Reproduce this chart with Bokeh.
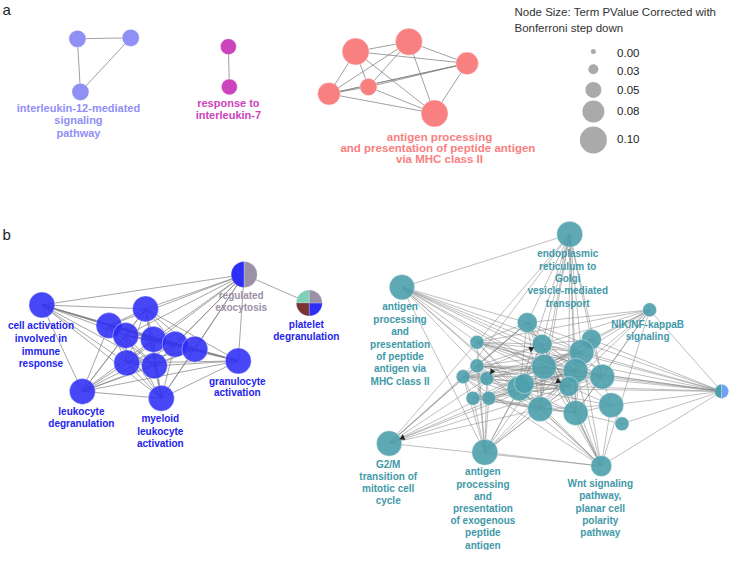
import numpy as np
from bokeh.plotting import figure
from bokeh.models import Range1d
from bokeh.embed import file_html
from bokeh.resources import INLINE
from bokeh.core.properties import value

# ---------------- data ----------------
legend_title = ["Node Size: Term PValue Corrected with", "Bonferroni step down"]
legend_pvalues = [0.00, 0.025, 0.05, 0.075, 0.10]
legend_labels = ["0.00", "0.03", "0.05", "0.08", "0.10"]

# panel a: three GO clusters (corrected p-values of member terms, edges)
a1_pval = [0.055, 0.055, 0.055]
a1_edges = [(0, 1), (0, 2), (1, 2)]
a1_label = "interleukin-12-mediated\nsignaling\npathway"

a2_pval = [0.05, 0.05]
a2_edges = [(0, 1)]
a2_label = "response to\ninterleukin-7"

a3_pval = [0.10, 0.10, 0.078, 0.078, 0.055, 0.10]
a3_edges = [(0, 1), (0, 2), (0, 3), (0, 4), (0, 5), (1, 2), (1, 3), (1, 4), (1, 5),
            (2, 3), (2, 3), (2, 4), (2, 5), (3, 5), (4, 5), (3, 4)]
a3_label = "antigen processing\nand presentation  of peptide antigen\nvia MHC class II"

# panel b left network (nodes 12, 13 are pies)
bl_pval = [0.095, 0.095, 0.095, 0.095, 0.095, 0.095, 0.095, 0.095, 0.095, 0.095,
           0.095, 0.095, 0.095, 0.095]
bl_edges_txt = ("0-1 0-2 0-3 0-4 0-5 0-6 0-7 0-8 0-9 0-10 0-11 0-12 1-2 1-3 1-4 1-5 1-6 1-7 "
                "1-8 1-9 1-10 1-11 1-12 2-3 2-4 2-5 2-6 2-7 2-8 2-9 2-10 2-11 2-12 3-4 3-5 "
                "3-6 3-7 3-8 3-9 3-10 3-11 3-12 4-5 4-6 4-7 4-8 4-9 4-10 4-11 4-12 5-6 5-7 "
                "5-8 5-9 5-10 5-11 5-12 6-7 6-8 6-9 6-10 6-11 6-12 7-8 7-9 7-10 7-11 7-12 "
                "8-9 8-10 8-11 8-12 9-10 9-11 10-11 10-12 11-12 12-13")
bl_labels = ["cell activation\ninvolved in\nimmune\nresponse",
             "leukocyte\ndegranulation",
             "myeloid\nleukocyte\nactivation",
             "granulocyte\nactivation",
             "regulated\nexocytosis",
             "platelet\ndegranulation"]
pie_exo_frac = [0.5, 0.5]
pie_plt_frac = [0.25, 0.25, 0.25, 0.25]

# panel b right network (node 6 is a pie)
br_pval = [0.092, 0.095, 0.042, 0.092, 0.095, 0.071, 0.042,
           0.067, 0.042, 0.067, 0.067, 0.09, 0.042, 0.09, 0.09, 0.09, 0.042,
           0.042, 0.09, 0.067, 0.067, 0.042, 0.042, 0.09, 0.09, 0.09, 0.042]
br_edges_txt = ("0-1 0-4 0-7 0-9 0-11 0-13 0-14 0-18 0-20 0-23 0-12 0-8 0-15 "
                "1-7 1-8 1-9 1-10 1-11 1-13 1-14 1-15 1-18 1-20 1-23 1-24 1-16 "
                "2-7 2-8 2-9 2-10 2-11 2-13 2-14 2-15 2-20 2-24 2-6 2-5 "
                "3-5 3-7 3-8 3-12 3-13 3-14 3-16 3-17 3-18 3-20 3-23 "
                "4-5 4-8 4-12 4-13 4-14 4-16 4-17 4-18 4-20 4-21 4-22 4-23 4-9 4-11 "
                "5-7 5-8 5-9 5-11 5-12 5-13 5-14 5-16 5-18 5-20 5-23 5-24 5-25 5-6 "
                "6-7 6-9 6-10 6-11 6-13 6-14 6-15 6-18 6-20 6-25 6-26 6-8 6-12 "
                "7-8 7-9 7-11 7-12 7-13 7-14 7-16 7-18 7-20 7-23 "
                "8-9 8-11 8-13 8-14 8-15 8-18 8-20 "
                "9-10 9-11 9-12 9-13 9-14 9-15 9-16 9-18 9-20 9-23 9-24 "
                "10-11 10-13 10-14 10-15 10-18 "
                "11-12 11-13 11-14 11-15 11-16 11-17 11-18 11-20 11-23 11-24 "
                "12-13 12-14 12-15 12-17 12-18 12-20 "
                "13-14 13-15 13-16 13-17 13-18 13-20 13-21 13-23 13-24 "
                "14-15 14-16 14-18 14-20 14-21 14-22 14-23 14-24 14-25 "
                "15-16 15-18 15-20 15-23 15-24 15-25 "
                "16-17 16-18 16-20 16-21 16-22 16-24 "
                "17-18 17-20 17-21 17-22 17-23 "
                "18-20 18-21 18-22 18-23 18-24 18-25 19-20 19-23 "
                "20-21 20-22 20-23 20-24 20-25 21-22 21-23 21-24 22-23 22-24 "
                "23-24 23-25 24-25 24-26 25-26")
# directed edges (source-target) drawn with arrowheads
br_arrows_txt = "18-3 16-9 7-17 8-20"
br_labels = ["antigen\nprocessing\nand\npresentation\nof peptide\nantigen via\nMHC class II",
             "endoplasmic\nreticulum to\nGolgi\nvesicle-mediated\ntransport",
             "NIK/NF-kappaB\nsignaling",
             "G2/M\ntransition of\nmitotic cell\ncycle",
             "antigen\nprocessing\nand\npresentation\nof exogenous\npeptide\nantigen",
             "Wnt signaling\npathway,\nplanar cell\npolarity\npathway"]
pie_right_frac = [0.5, 0.5]

# ---------------- layout (node positions from the network layout) ----------------
a1_x = [82, 136, 85]
a1_y = [44, 43, 98]
a2_x = [235, 236]
a2_y = [52, 93]
a3_x = [364, 418, 477, 337, 377, 444]
a3_y = [57, 47, 69, 100, 93, 120]

bl_x = [46, 151, 114, 131, 159, 181, 201, 132, 160, 87, 167, 245, 251, 317]
bl_y = [315, 319, 336, 346, 350, 355, 360, 374, 377, 403, 410, 372, 284, 313]

br_x = [411, 581, 662, 398, 495, 613, 735,
        538, 487, 553, 603, 593, 487, 555, 587, 614, 473, 497, 530, 535, 580,
        483, 499, 551, 587, 623, 634]
br_y = [297, 243, 320, 456, 465, 479, 403,
        333, 353, 355, 350, 363, 377, 378, 382, 388, 388, 390, 400, 395, 398,
        410, 410, 421, 425, 417, 436]

# label anchors: (x, first line y, line height)
a_label_pos = [(83, 114, 13), (235, 109, 13), (449, 144, 11)]
bl_label_pos = [(45, 336, 13), (86, 423, 13), (166, 431, 12.5), (244, 393, 11.5),
                (248, 305, 12.5), (314, 335, 12)]
br_label_pos = [(409, 317, 12.6), (579, 263, 12.5), (660, 335, 12.5), (397, 477, 12.3),
                (493, 485, 12.4), (612, 497, 12.4)]

# ---------------- styles ----------------
LEG_SIZES = [5, 10, 16, 22, 27]
C_PURPLE = "#8f8ff5"
C_MAGENTA = "#cc44bb"
C_PINK = "#f88080"
C_BLUE = "#2e2ef6"
C_BLUE_T = "#2424ec"
C_GRAYP = "#9a90a8"
C_TEAL = "#4ea0ad"
C_TEAL_T = "#3f99a8"
C_MINT = "#80cfb8"
C_BROWN = "#7a3434"
C_LBLUE = "#70a2f8"
EDGE = "#808080"
FONT = value("Liberation Sans")


def size_of(pv):
    return np.interp(pv, legend_pvalues, LEG_SIZES)


def parse_edges(txt):
    return [tuple(int(v) for v in e.split("-")) for e in txt.split()]


p = figure(width=730, height=550, output_backend="svg", toolbar_location=None,
           x_range=Range1d(4, 744), y_range=Range1d(565, 5), min_border=0)
p.axis.visible = False
p.grid.visible = False
p.outline_line_color = None
p.background_fill_color = "white"


def draw_edges(xs, ys, edges, alpha=0.65, width=1.0):
    p.multi_line([[xs[a], xs[b]] for a, b in edges], [[ys[a], ys[b]] for a, b in edges],
                 line_color=EDGE, line_alpha=alpha, line_width=width)


def draw_nodes(xs, ys, pv, color, alpha=1.0, idx=None):
    if idx is None:
        idx = range(len(xs))
    idx = list(idx)
    p.scatter([xs[i] for i in idx], [ys[i] for i in idx], size=size_of([pv[i] for i in idx]),
              fill_color=color, fill_alpha=alpha, line_color="white", line_alpha=0.5, line_width=0.8)


def draw_pie(x, y, pv, fracs, colors):
    r = float(size_of(pv)) / 2
    ang = np.pi / 2 + 2 * np.pi * np.concatenate([[0], np.cumsum(fracs)])
    n = len(fracs)
    p.wedge(x=[x] * n, y=[y] * n, radius=r, radius_units="screen",
            start_angle=list(ang[:-1]), end_angle=list(ang[1:]),
            fill_color=colors, line_color="white", line_alpha=0.4, line_width=0.5)


def draw_arrows(xs, ys, pv, arrows):
    ax, ay, aa = [], [], []
    for s, t in arrows:
        dx, dy = xs[t] - xs[s], ys[t] - ys[s]
        d = np.hypot(dx, dy)
        r = float(size_of(pv[t])) / 2 + 2
        ax.append(xs[t] - dx / d * r)
        ay.append(ys[t] - dy / d * r)
        aa.append(np.arctan2(-dy, dx) - np.pi / 2)
    p.scatter(ax, ay, marker="triangle", size=6, angle=aa, fill_color="#222222",
              line_color=None)


def draw_label(text, pos, color, size="10px"):
    x, y0, lh = pos
    lines = text.split("\n")
    p.text(x=[x] * len(lines), y=[y0 + i * lh for i in range(len(lines))], text=lines,
           text_color=color, text_font=FONT, text_font_style="bold", text_font_size=size,
           text_align="center", text_baseline="middle")


# panel letters
p.text(x=[6], y=[14], text=["a"], text_font=FONT, text_font_size="15px", text_color="#222222",
       text_align="left", text_baseline="middle")
p.text(x=[6], y=[243], text=["b"], text_font=FONT, text_font_size="15px", text_color="#222222",
       text_align="left", text_baseline="middle")

# panel a
draw_edges(a1_x, a1_y, a1_edges, alpha=0.75)
draw_edges(a2_x, a2_y, a2_edges, alpha=0.75)
draw_edges(a3_x, a3_y, a3_edges, alpha=0.75)
draw_nodes(a1_x, a1_y, a1_pval, C_PURPLE)
draw_nodes(a2_x, a2_y, a2_pval, C_MAGENTA)
draw_nodes(a3_x, a3_y, a3_pval, C_PINK)
draw_label(a1_label, a_label_pos[0], C_PURPLE, "11px")
draw_label(a2_label, a_label_pos[1], C_MAGENTA, "11px")
draw_label(a3_label, a_label_pos[2], C_PINK, "11.5px")

# legend
p.text(x=[525, 525], y=[17, 33], text=legend_title, text_font=FONT, text_font_size="11.5px",
       text_color="#333333", text_align="left", text_baseline="middle")
leg_y = [57, 75, 96, 118, 147]
p.scatter([605] * 5, leg_y, size=size_of(legend_pvalues), fill_color="#aaaaaa",
          line_color=None)
p.text(x=[629] * 5, y=[58, 77, 96, 118, 146], text=legend_labels, text_font=FONT,
       text_font_size="11.5px", text_color="#222222", text_align="left", text_baseline="middle")

# panel b left
draw_edges(bl_x, bl_y, parse_edges(bl_edges_txt), alpha=0.7)
draw_nodes(bl_x, bl_y, bl_pval, C_BLUE, alpha=0.88, idx=range(12))
draw_pie(bl_x[12], bl_y[12], bl_pval[12], pie_exo_frac, [C_BLUE, C_GRAYP])
draw_pie(bl_x[13], bl_y[13], bl_pval[13], pie_plt_frac, [C_MINT, C_BROWN, C_BLUE, C_GRAYP])
for i, lab in enumerate(bl_labels):
    draw_label(lab, bl_label_pos[i], C_GRAYP if i == 4 else C_BLUE_T)

# panel b right
draw_edges(br_x, br_y, parse_edges(br_edges_txt), alpha=0.5)
draw_nodes(br_x, br_y, br_pval, C_TEAL, alpha=0.9, idx=[i for i in range(len(br_x)) if i != 6])
draw_pie(br_x[6], br_y[6], br_pval[6], pie_right_frac, [C_TEAL, C_LBLUE])
draw_arrows(br_x, br_y, br_pval, parse_edges(br_arrows_txt))
for i, lab in enumerate(br_labels):
    draw_label(lab, br_label_pos[i], C_TEAL_T)

open("out.html", "w").write(file_html(p, INLINE))
